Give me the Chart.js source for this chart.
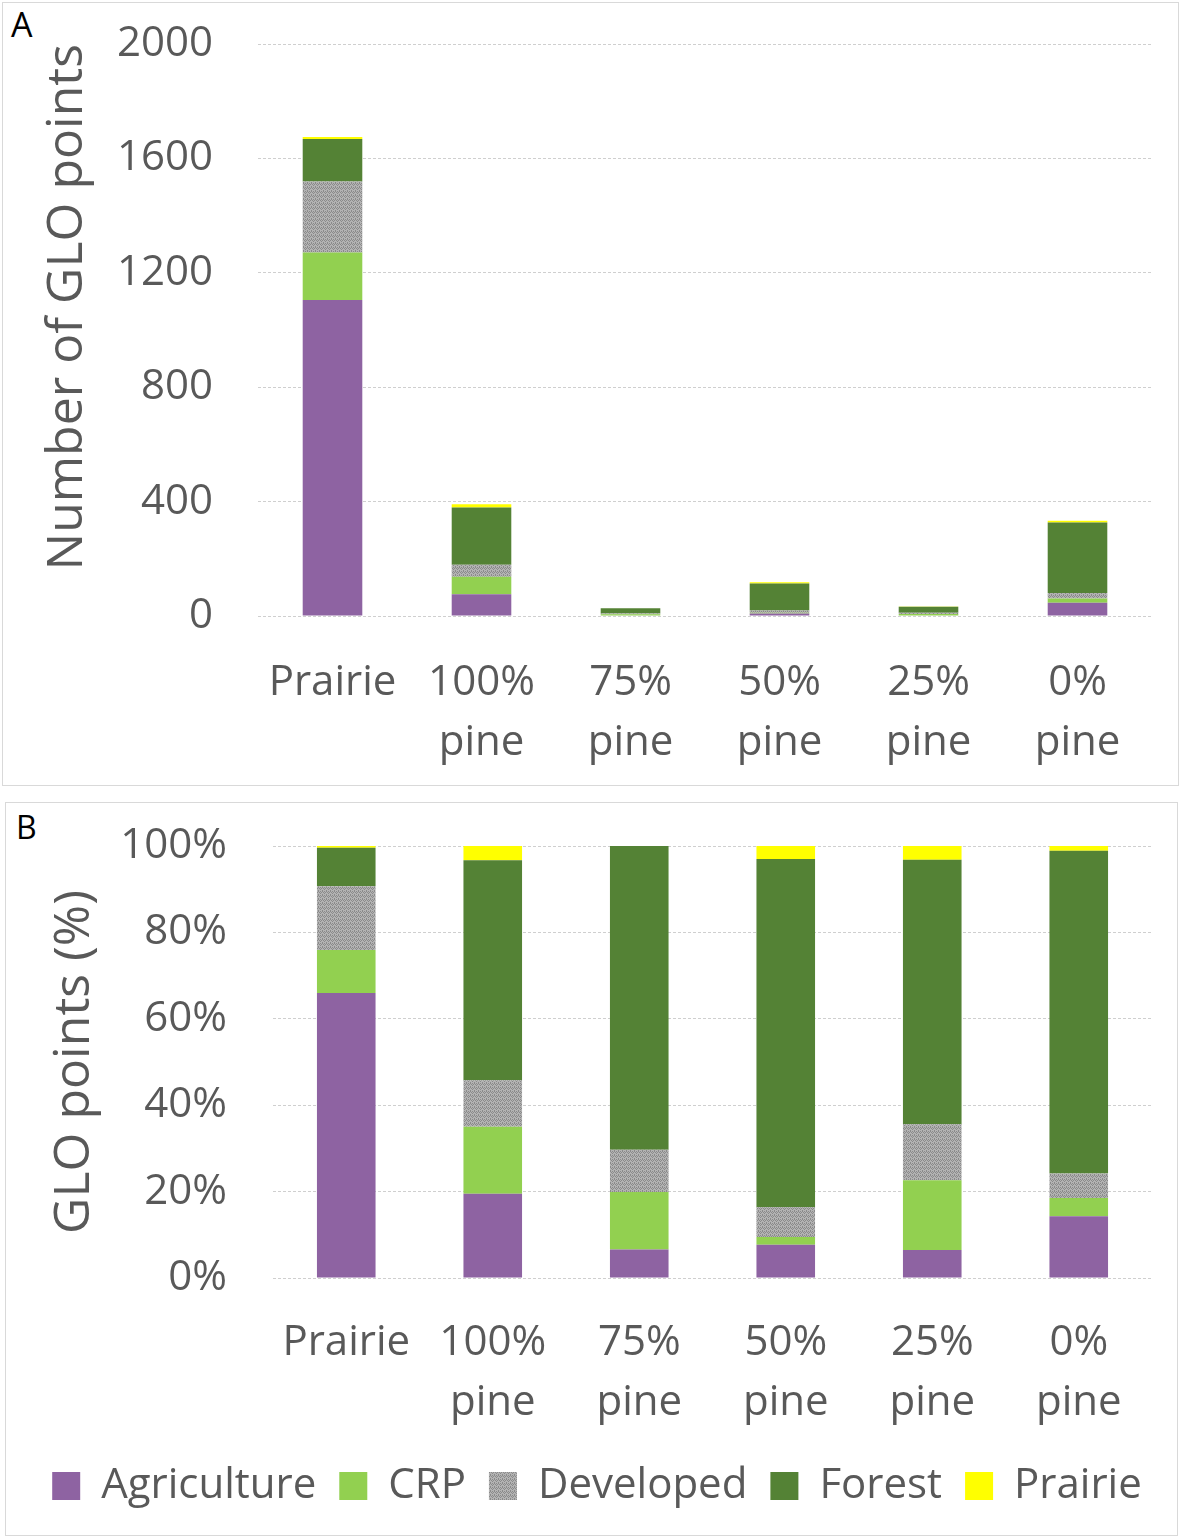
<!DOCTYPE html>
<html>
<head>
    <meta charset="UTF-8" />
    <title>GLO points by land cover</title>
    <script src="https://cdn.jsdelivr.net/npm/chart.js"></script>
    <style>
        body { margin: 0; background: #fff; font-family: 'Open Sans', sans-serif; }
        .panel { position: absolute; box-sizing: border-box; border: 1px solid #d9d9d9; }
        .tag { position: absolute; color: #000; line-height: 1; }
        canvas { position: absolute; }
    </style>
</head>
<body>
    <div class="panel" style="left:2px; top:2px; width:1177px; height:784px;"></div>
    <div class="panel" style="left:5px; top:802px; width:1173px; height:734px;"></div>
    <div class="tag" style="left:11px; top:7px; font-size:34px;">A</div>
    <div class="tag" style="left:16px; top:811px; font-size:32px;">B</div>

    <canvas id="chartA" style="left:3px; top:3px;" width="1174" height="781"></canvas>
    <canvas id="chartB" style="left:6px; top:803px;" width="1170" height="731"></canvas>

    <script>
        // categories (x axis)
        const categories = [['Prairie'], ['100%', 'pine'], ['75%', 'pine'], ['50%', 'pine'], ['25%', 'pine'], ['0%', 'pine']];
        const landCovers = ['Agriculture', 'CRP', 'Developed', 'Forest', 'Prairie'];

        // panel A: number of GLO points
        const countAgriculture = [1105, 76, 2, 9, 2, 46];
        const countCRP = [166, 61, 4, 2, 5, 15];
        const countDeveloped = [248, 42, 3, 8, 4, 19];
        const countForest = [149, 200, 18, 95, 21, 247];
        const countPrairie = [7, 12, 0, 4, 1, 6];
        const countTicks = [0, 400, 800, 1200, 1600, 2000];

        // panel B: share of GLO points (%)
        const pctAgriculture = [66.0, 19.5, 6.6, 7.7, 6.5, 14.3];
        const pctCRP = [9.9, 15.5, 13.3, 1.8, 16.1, 4.2];
        const pctDeveloped = [14.8, 10.8, 9.8, 6.9, 13.0, 5.7];
        const pctForest = [8.9, 50.9, 70.3, 80.6, 61.2, 74.7];
        const pctPrairie = [0.4, 3.3, 0.0, 3.0, 3.2, 1.1];
        const pctTicks = [0, 20, 40, 60, 80, 100];

        const textGray = '#595959';
        const gridGray = '#cfcfcf';

        // grey texture used by Excel for "Developed"
        function developedPattern() {
            const c = document.createElement('canvas');
            c.width = 4; c.height = 4;
            const g = c.getContext('2d');
            g.fillStyle = '#b3b3b3';
            g.fillRect(0, 0, 4, 4);
            g.fillStyle = '#8a8a8a';
            g.fillRect(0, 0, 1, 1); g.fillRect(1, 1, 1, 1);
            g.fillRect(2, 2, 1, 1); g.fillRect(3, 1, 1, 1);
            g.fillRect(2, 0, 1, 1); g.fillRect(0, 3, 1, 1);
            return g.createPattern(c, 'repeat');
        }

        const colors = ['#8e63a2', '#92d050', developedPattern(), '#548235', '#ffff00'];

        function makeDatasets(series) {
            return series.map((values, i) => ({
                label: landCovers[i],
                data: values,
                backgroundColor: colors[i],
                borderWidth: 0,
                categoryPercentage: 1.0,
                barPercentage: 0.4
            }));
        }

        // fixed axis width, and no extra space for the half tick label at the ends
        function fixWidth(w) {
            return scale => { scale.width = w; scale.paddingTop = 0; scale.paddingBottom = 0; };
        }
        function fixHeight(h) { return scale => { scale.height = h; }; }

        const tickFont = { family: 'Open Sans', size: 42 };
        const xTickFont = { family: 'Open Sans', size: 42, lineHeight: 1.43 };
        const titleFont = { family: 'Open Sans', size: 50 };

        // ---- panel A ----
        new Chart(document.getElementById('chartA'), {
            type: 'bar',
            data: {
                labels: categories,
                datasets: makeDatasets([countAgriculture, countCRP, countDeveloped, countForest, countPrairie])
            },
            options: {
                responsive: false,
                animation: false,
                layout: { padding: { top: 41, right: 25, bottom: 0, left: 0 } },
                plugins: { legend: { display: false }, tooltip: { enabled: false } },
                scales: {
                    x: {
                        stacked: true,
                        grid: { display: false },
                        border: { display: false },
                        ticks: { color: textGray, font: xTickFont, padding: 29, maxRotation: 0, autoSkip: false },
                        afterFit: fixHeight(168)
                    },
                    y: {
                        stacked: true,
                        min: countTicks[0],
                        max: countTicks[countTicks.length - 1],
                        afterBuildTicks: axis => { axis.ticks = countTicks.map(v => ({ value: v })); },
                        grid: { color: gridGray, lineWidth: 1, drawTicks: false },
                        border: { display: false, dash: [3, 2] },
                        ticks: { color: textGray, font: tickFont, padding: 45, callback: v => String(v) },
                        title: { display: true, text: 'Number of GLO points', align: 'end', color: textGray, font: titleFont, padding: { top: 35, bottom: 0 } },
                        afterFit: fixWidth(255)
                    }
                }
            }
        });

        // ---- panel B ----
        new Chart(document.getElementById('chartB'), {
            type: 'bar',
            data: {
                labels: categories,
                datasets: makeDatasets([pctAgriculture, pctCRP, pctDeveloped, pctForest, pctPrairie])
            },
            options: {
                responsive: false,
                animation: false,
                layout: { padding: { top: 43, right: 0, bottom: 17, left: 12 } },
                plugins: {
                    tooltip: { enabled: false },
                    legend: {
                        position: 'bottom',
                        labels: { color: textGray, font: tickFont, boxWidth: 28, boxHeight: 28, padding: 23 }
                    }
                },
                scales: {
                    x: {
                        stacked: true,
                        grid: { display: false },
                        border: { display: false },
                        ticks: { color: textGray, font: xTickFont, padding: 27, maxRotation: 0, autoSkip: false },
                        afterFit: fixHeight(164)
                    },
                    y: {
                        stacked: true,
                        min: pctTicks[0],
                        max: pctTicks[pctTicks.length - 1],
                        afterBuildTicks: axis => { axis.ticks = pctTicks.map(v => ({ value: v })); },
                        grid: { color: gridGray, lineWidth: 1, drawTicks: false },
                        border: { display: false, dash: [3, 2] },
                        ticks: { color: textGray, font: tickFont, padding: 46, callback: v => v + '%' },
                        title: { display: true, text: 'GLO points (%)', color: textGray, font: titleFont, padding: { top: 27, bottom: 0 } },
                        afterFit: fixWidth(255)
                    },
                    // empty right-hand spacer so the legend can use the full width
                    spacer: {
                        position: 'right',
                        grid: { display: false },
                        border: { display: false },
                        ticks: { display: false },
                        afterFit: fixWidth(24)
                    }
                }
            }
        });
    </script>
</body>
</html>
